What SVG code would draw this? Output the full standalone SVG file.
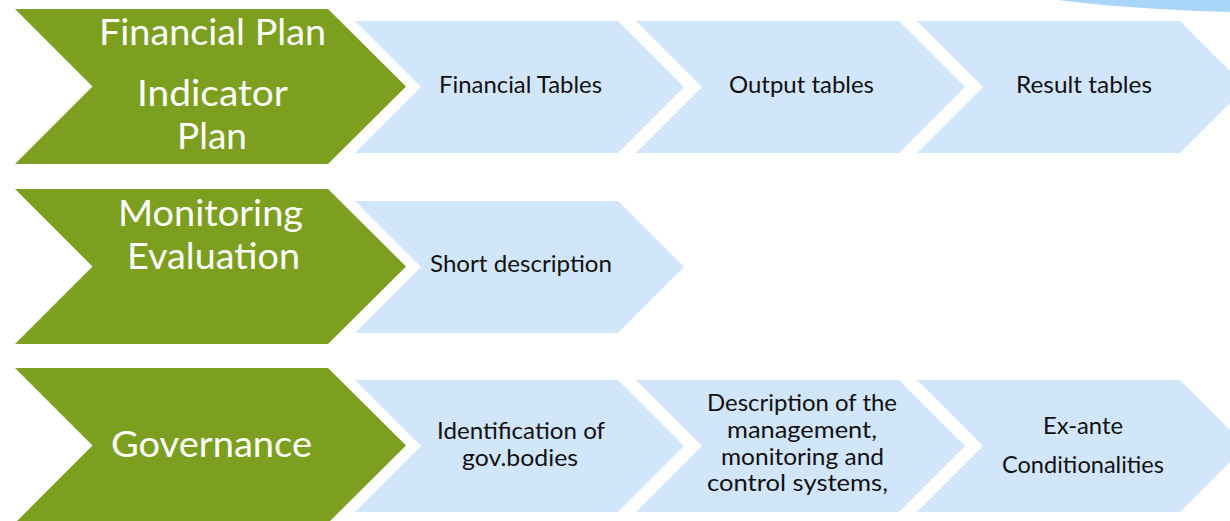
<svg xmlns="http://www.w3.org/2000/svg" width="1230" height="521" viewBox="0 0 1230 521">
  <style>
    .g { fill: #7C9F1F; }
    .b { fill: #D1E6FB; }
    .gt { fill: #FFFFFF; font-family: Lato, "Open Sans", sans-serif; font-size: 36px; text-anchor: middle; }
    .bt { fill: #111111; font-family: Lato, "Open Sans", sans-serif; font-size: 23px; text-anchor: middle; }
  </style>
  <defs>
    <path id="gchev" d="M0,0 L313,0 L391,77.5 L313,155 L0,155 L77.5,77.5 Z"/>
    <path id="bchev" d="M0,0 L263,0 L329,66 L263,132 L0,132 L66,66 Z"/>
  </defs>

  <path id="corner" d="M1058,0 Q1130,9 1230,12 L1230,0 Z" fill="#A9D5F8"/>

  <g id="connectors"/>

  <g id="financial-plan">
    <use href="#gchev" class="g" x="15" y="9"/>
    <text class="gt" x="212.5" y="45" textLength="227" lengthAdjust="spacingAndGlyphs">Financial Plan</text>
    <text class="gt" x="212.5" y="106" textLength="151" lengthAdjust="spacingAndGlyphs">Indicator</text>
    <text class="gt" x="212" y="149" textLength="70" lengthAdjust="spacingAndGlyphs">Plan</text>
  </g>
  <g id="financial-tables">
    <use href="#bchev" class="b" x="355" y="21"/>
    <text class="bt" x="520.5" y="93" textLength="163" lengthAdjust="spacingAndGlyphs">Financial Tables</text>
  </g>
  <g id="output-tables">
    <use href="#bchev" class="b" x="636" y="21"/>
    <text class="bt" x="801.5" y="93" textLength="145" lengthAdjust="spacingAndGlyphs">Output tables</text>
  </g>
  <g id="result-tables">
    <use href="#bchev" class="b" x="917" y="21"/>
    <text class="bt" x="1084" y="93" textLength="136" lengthAdjust="spacingAndGlyphs">Result tables</text>
  </g>

  <g id="monitoring-evaluation">
    <use href="#gchev" class="g" x="15" y="189"/>
    <text class="gt" x="210.5" y="226" textLength="185" lengthAdjust="spacingAndGlyphs">Monitoring</text>
    <text class="gt" x="213.5" y="269" textLength="173" lengthAdjust="spacingAndGlyphs">Evaluation</text>
  </g>
  <g id="short-description">
    <use href="#bchev" class="b" x="355" y="201"/>
    <text class="bt" x="521" y="272" textLength="182" lengthAdjust="spacingAndGlyphs">Short description</text>
  </g>

  <g id="governance">
    <use href="#gchev" class="g" x="15" y="368"/>
    <text class="gt" x="211.5" y="457" textLength="201" lengthAdjust="spacingAndGlyphs">Governance</text>
  </g>
  <g id="identification">
    <use href="#bchev" class="b" x="355" y="380"/>
    <text class="bt" x="521" y="439" textLength="168" lengthAdjust="spacingAndGlyphs">Identification of</text>
    <text class="bt" x="520" y="466" textLength="116" lengthAdjust="spacingAndGlyphs">gov.bodies</text>
  </g>
  <g id="description">
    <use href="#bchev" class="b" x="636" y="380"/>
    <text class="bt" x="802" y="411" textLength="190" lengthAdjust="spacingAndGlyphs">Description of the</text>
    <text class="bt" x="802" y="438" textLength="150" lengthAdjust="spacingAndGlyphs">management,</text>
    <text class="bt" x="802.5" y="465" textLength="163" lengthAdjust="spacingAndGlyphs">monitoring and</text>
    <text class="bt" x="797.5" y="491" textLength="181" lengthAdjust="spacingAndGlyphs">control systems,</text>
  </g>
  <g id="ex-ante">
    <use href="#bchev" class="b" x="917" y="380"/>
    <text class="bt" x="1083" y="434" textLength="80" lengthAdjust="spacingAndGlyphs">Ex-ante</text>
    <text class="bt" x="1083" y="473" textLength="162" lengthAdjust="spacingAndGlyphs">Conditionalities</text>
  </g>
</svg>
